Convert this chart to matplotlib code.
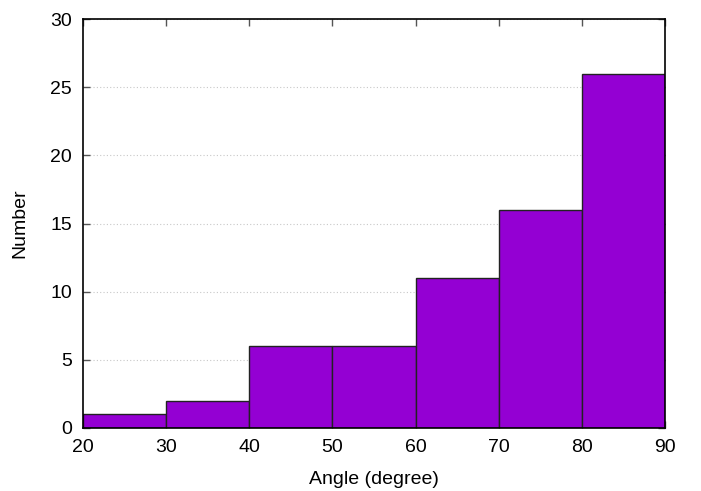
import matplotlib
matplotlib.use("Agg")
import matplotlib.pyplot as plt

plt.rcParams['font.family'] = ['Liberation Sans', 'DejaVu Sans']

bin_edges = [20, 30, 40, 50, 60, 70, 80, 90]
counts = [1, 2, 6, 6, 11, 16, 26]
xticks = [20, 30, 40, 50, 60, 70, 80, 90]
yticks = [0, 5, 10, 15, 20, 25, 30]

fig = plt.figure(figsize=(7.01, 4.91), dpi=100)
ax = fig.add_axes([83/701, 1-428/491, (665-83)/701, (428-19)/491])

lefts = bin_edges[:-1]
widths = [b - a for a, b in zip(bin_edges[:-1], bin_edges[1:])]
ax.bar(lefts, counts, width=widths, align='edge', color='#9400d3',
       edgecolor='#222222', linewidth=1.0, zorder=2)

ax.set_xlim(20, 90)
ax.set_ylim(0, 30)
ax.set_xticks(xticks)
ax.set_yticks(yticks)
ax.yaxis.grid(True, linestyle=(0, (1, 2)), color='#c8c8c8', linewidth=0.8, zorder=0)
ax.set_axisbelow(True)
ax.tick_params(direction='in', top=True, right=True, length=5, width=1,
               color='#555555', labelsize=14)
ax.tick_params(axis='x', pad=8)
ax.tick_params(axis='y', pad=8)
for s in ax.spines.values():
    s.set_linewidth(1.2)
    s.set_color('black')
    s.set_zorder(3)

ax.set_xlabel('Angle (degree)', fontsize=14, labelpad=11)
ax.set_ylabel('Number', fontsize=14, labelpad=16)

fig.savefig('out.png', dpi=100)
